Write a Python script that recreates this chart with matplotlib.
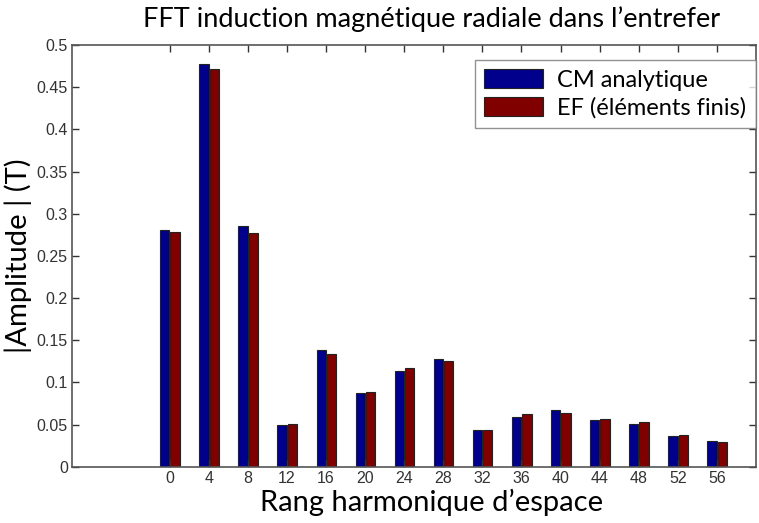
import matplotlib
matplotlib.use("Agg")
import matplotlib.pyplot as plt
import numpy as np

harmonics = [0, 4, 8, 12, 16, 20, 24, 28, 32, 36, 40, 44, 48, 52, 56]
cm_analytique = [0.281, 0.4775, 0.2854, 0.0494, 0.1384, 0.0874, 0.1131, 0.1277,
                 0.0431, 0.0589, 0.0672, 0.0550, 0.0510, 0.0360, 0.0308]
ef_elements = [0.2787, 0.4720, 0.2767, 0.0506, 0.1333, 0.0889, 0.1166, 0.1250,
               0.0431, 0.0621, 0.0633, 0.0566, 0.0526, 0.0376, 0.0293]
yticks = [0, 0.05, 0.1, 0.15, 0.2, 0.25, 0.3, 0.35, 0.4, 0.45, 0.5]
ytick_labels = ["0", "0.05", "0.1", "0.15", "0.2", "0.25", "0.3", "0.35", "0.4", "0.45", "0.5"]

label_font = ["Lato", "DejaVu Sans"]
tick_font = ["Liberation Sans Narrow", "Liberation Sans", "DejaVu Sans"]

fig = plt.figure(figsize=(7.59, 5.23), dpi=100)
ax = fig.add_axes([72 / 759, 1 - 466.7 / 523, (756 - 72) / 759, (466.7 - 45) / 523])

x = np.array(harmonics, dtype=float)
w = 0.95
ax.bar(x - 0.5, cm_analytique, width=w, color="#00008C", edgecolor="#222222",
       linewidth=0.8, label="CM analytique")
ax.bar(x + 0.55, ef_elements, width=w, color="#800000", edgecolor="#222222",
       linewidth=0.8, label="EF (éléments finis)")

ax.set_xlim(-10, 60)
ax.set_ylim(0, 0.5)
ax.set_xticks(harmonics)
ax.set_xticklabels([str(h) for h in harmonics], family=tick_font, fontsize=11.5, color="#333333")
ax.set_yticks(yticks)
ax.set_yticklabels(ytick_labels, family=tick_font, fontsize=11.5, color="#333333")
ax.tick_params(direction="in", length=5, width=1, top=True, right=True, color="#333333", pad=3)

for s in ax.spines.values():
    s.set_color("#555555")
    s.set_linewidth(1.2)

ax.set_title("FFT induction magnétique radiale dans l’entrefer", family=label_font,
             fontsize=19.5, pad=13, x=0.525)
ax.set_xlabel("Rang harmonique d’espace", family=label_font, fontsize=21, labelpad=0)
ax.xaxis.set_label_coords(0.525, (466.7 - 511) / 421.7, transform=ax.transAxes)
ax.xaxis.label.set_verticalalignment("baseline")
ax.set_ylabel("|Amplitude | (T)", family=label_font, fontsize=21, labelpad=3)

leg = ax.legend(loc="upper right", bbox_to_anchor=(1.0, 1 - 15 / 421.7),
                prop={"family": label_font, "size": 17},
                frameon=True, fancybox=False, edgecolor="#777777",
                handlelength=2.5, handleheight=0.85, borderaxespad=0.0,
                borderpad=0.4, labelspacing=0.25, handletextpad=0.6)
leg.get_frame().set_linewidth(1.0)

fig.savefig("out.png", dpi=100)
